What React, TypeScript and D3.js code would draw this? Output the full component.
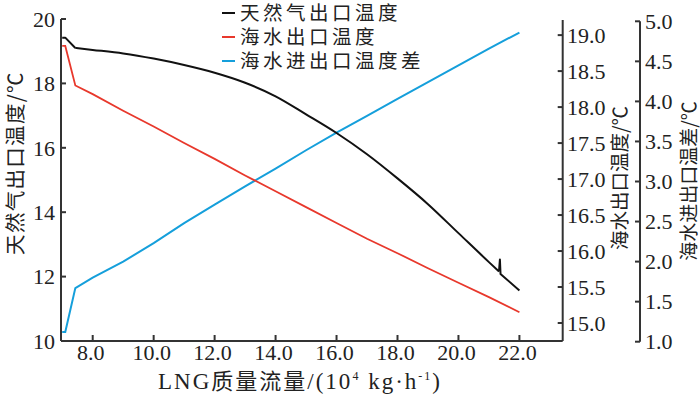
import React from "react";
import * as d3 from "d3";

// ---- data ----
const gasX = [7.0, 7.1, 7.43, 8, 9, 10, 11, 12, 13, 14, 15, 16, 17, 18, 19, 20, 21, 21.33, 21.36, 21.38, 22];
const gasT = [19.42, 19.42, 19.1, 19.04, 18.93, 18.77, 18.57, 18.33, 18.02, 17.6, 17.04, 16.46, 15.8, 15.05, 14.25, 13.35, 12.45, 12.16, 12.53, 12.08, 11.57];

const seaX = [7.0, 7.1, 7.43, 8, 9, 10, 11, 12, 13, 14, 15, 16, 17, 18, 19, 20, 21, 22];
const seaOut = [18.85, 18.85, 18.3, 18.18, 17.95, 17.73, 17.5, 17.28, 17.05, 16.83, 16.61, 16.39, 16.17, 15.97, 15.76, 15.56, 15.36, 15.15];
const seaDiff = [1.12, 1.12, 1.67, 1.8, 2.0, 2.23, 2.48, 2.71, 2.94, 3.16, 3.39, 3.61, 3.82, 4.03, 4.24, 4.45, 4.66, 4.86];

const xTicks = [8, 10, 12, 14, 16, 18, 20, 22];
const leftTicks = [10, 12, 14, 16, 18, 20];
const right1Ticks = [15, 15.5, 16, 16.5, 17, 17.5, 18, 18.5, 19];
const right2Ticks = [1, 1.5, 2, 2.5, 3, 3.5, 4, 4.5, 5];

const legendLabels = ["天然气出口温度", "海水出口温度", "海水进出口温度差"];
const colors = ["#111111", "#e8382c", "#159fdb"];

const serif = "'Liberation Serif', 'Times New Roman', serif";
const cjk = "'Noto Sans CJK SC', sans-serif";

export default function App() {
  const x = d3.scaleLinear().domain([6.96, 23.42]).range([61, 562.7]);
  const yL = d3.scaleLinear().domain([10, 20]).range([341, 19]);
  const yR1 = d3.scaleLinear().domain([14.75, 19.21]).range([341, 20]);
  const yR2 = d3.scaleLinear().domain([1, 5]).range([341.7, 21.3]);

  // smooth body (from the 7.43 knee to just before the spike), straight elsewhere
  const smoothStart = 2;
  const smoothEnd = 17; // index of 21.33
  const gasPts: [number, number][] = gasX.map((v, i) => [v, gasT[i]]);
  const lineLin = d3
    .line<[number, number]>()
    .x((d) => x(d[0]))
    .y((d) => yL(d[1]));
  const lineSmooth = d3
    .line<[number, number]>()
    .x((d) => x(d[0]))
    .y((d) => yL(d[1]))
    .curve(d3.curveMonotoneX);
  const gasA = lineLin(gasPts.slice(0, smoothStart + 1));
  const gasB = lineSmooth(gasPts.slice(smoothStart, smoothEnd + 1));
  const gasC = lineLin(gasPts.slice(smoothEnd));

  const seaLine = d3
    .line<number>()
    .x((_, i) => x(seaX[i]))
    .y((d) => yR1(d))(seaOut);
  const diffLine = d3
    .line<number>()
    .x((_, i) => x(seaX[i]))
    .y((d) => yR2(d))(seaDiff);

  const axisColor = "#333";
  const tickFont = 22;
  const xr = x.range();

  return (
    <svg
      width={700}
      height={398}
      style={{ position: "absolute", left: 0, top: 0, background: "#fff" }}
    >
      {/* left axis */}
      <line x1={61} x2={61} y1={yL(20)} y2={yL(10)} stroke={axisColor} strokeWidth={2} />
      {leftTicks.map((t) => (
        <g key={"l" + t}>
          <line x1={61} x2={66} y1={yL(t)} y2={yL(t)} stroke={axisColor} strokeWidth={2} />
          <text x={55} y={yL(t)} dy="0.35em" textAnchor="end" fontFamily={serif} fontSize={tickFont} fill="#222">
            {t}
          </text>
        </g>
      ))}
      {/* x axis */}
      <line x1={xr[0]} x2={xr[1]} y1={341} y2={341} stroke={axisColor} strokeWidth={2} />
      {xTicks.map((t) => (
        <g key={"x" + t}>
          <line x1={x(t)} x2={x(t)} y1={341} y2={335} stroke={axisColor} strokeWidth={2} />
          <text x={x(t) - 2} y={360} textAnchor="middle" fontFamily={serif} fontSize={tickFont} fill="#222">
            {t.toFixed(1)}
          </text>
        </g>
      ))}
      {/* right axis 1 */}
      <line x1={562.7} x2={562.7} y1={20} y2={341} stroke={axisColor} strokeWidth={2} />
      {right1Ticks.map((t) => (
        <g key={"r1" + t}>
          <line x1={557.7} x2={562.7} y1={yR1(t)} y2={yR1(t)} stroke={axisColor} strokeWidth={2} />
          <text x={567} y={yR1(t)} dy="0.35em" textAnchor="start" fontFamily={serif} fontSize={tickFont} fill="#222">
            {t.toFixed(1)}
          </text>
        </g>
      ))}
      {/* right axis 2 */}
      <line x1={640} x2={640} y1={yR2(5)} y2={yR2(1)} stroke={axisColor} strokeWidth={2} />
      {right2Ticks.map((t) => (
        <g key={"r2" + t}>
          <line x1={635} x2={640} y1={yR2(t)} y2={yR2(t)} stroke={axisColor} strokeWidth={2} />
          <text x={645} y={yR2(t)} dy="0.35em" textAnchor="start" fontFamily={serif} fontSize={tickFont} fill="#222">
            {t.toFixed(1)}
          </text>
        </g>
      ))}

      {/* axis titles */}
      <text
        transform="translate(16,163) rotate(-90)"
        dy="0.35em"
        textAnchor="middle"
        fontFamily={cjk}
        fontSize={20.5}
        letterSpacing={1.3}
        fill="#222"
      >
        天然气出口温度/℃
      </text>
      <text
        transform="translate(620,178) rotate(-90)"
        dy="0.35em"
        textAnchor="middle"
        fontFamily={cjk}
        fontSize={19.5}
        fill="#222"
      >
        海水出口温度/℃
      </text>
      <text
        transform="translate(689,181) rotate(-90)"
        dy="0.35em"
        textAnchor="middle"
        fontFamily={cjk}
        fontSize={19}
        fill="#222"
      >
        海水进出口温差/℃
      </text>
      <text x={300} y={389} textAnchor="middle" fontFamily={serif} fontSize={23} letterSpacing={2} fill="#222">
        LNG
        <tspan fontFamily={cjk} fontSize={22}>质量流量</tspan>
        /(10
        <tspan fontSize={12} dy={-9}>4</tspan>
        <tspan dy={9}> kg·h</tspan>
        <tspan fontSize={12} dy={-9}>-1</tspan>
        <tspan dy={9}>)</tspan>
      </text>

      {/* series */}
      <path d={diffLine || ""} fill="none" stroke={colors[2]} strokeWidth={2} />
      <path d={seaLine || ""} fill="none" stroke={colors[1]} strokeWidth={1.8} />
      <path d={gasA || ""} fill="none" stroke={colors[0]} strokeWidth={2} strokeLinejoin="round" />
      <path d={gasB || ""} fill="none" stroke={colors[0]} strokeWidth={2} strokeLinejoin="round" />
      <path d={gasC || ""} fill="none" stroke={colors[0]} strokeWidth={2} strokeLinejoin="round" />

      {/* legend */}
      {legendLabels.map((l, i) => (
        <g key={l} transform={`translate(222,${13 + i * 24})`}>
          <line x1={0} x2={13} y1={0} y2={0} stroke={colors[i]} strokeWidth={2} />
          <text x={18} y={0} dy="0.36em" fontFamily={cjk} fontSize={19.5} letterSpacing={3.5} fill="#222">
            {l}
          </text>
        </g>
      ))}
    </svg>
  );
}
